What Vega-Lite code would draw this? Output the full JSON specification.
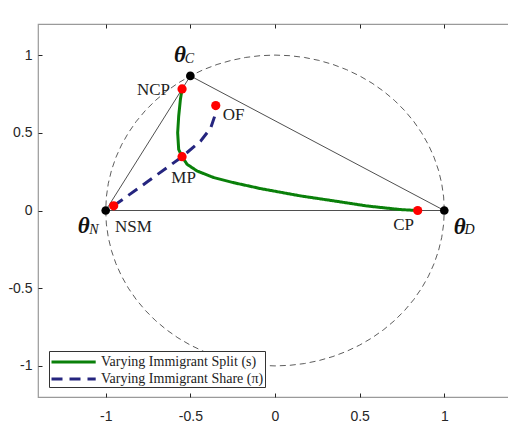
{
  "$schema": "https://vega.github.io/schema/vega-lite/v6.json",
  "autosize": "none",
  "width": 474,
  "height": 373,
  "padding": {"left": 38, "top": 24, "right": 0, "bottom": 28},
  "background": "white",
  "config": {
    "view": {"stroke": "#9a9a9a", "strokeWidth": 1.2},
    "axis": {"labelFont": "Liberation Sans", "labelFontSize": 14, "labelColor": "#262626", "tickColor": "#262626", "domain": false, "grid": false, "title": null},
    "legend": {"labelFont": "Times New Roman, Liberation Serif, serif", "labelFontSize": 14, "labelColor": "#222222"},
    "style": {"guide-label": {"font": "Times New Roman, Liberation Serif, serif"}}
  },
  "datasets": {
    "circle": [
      {"a":0,"x":1,"y":0},{"a":5,"x":0.9962,"y":0.0872},{"a":10,"x":0.9848,"y":0.1736},{"a":15,"x":0.9659,"y":0.2588},{"a":20,"x":0.9397,"y":0.342},{"a":25,"x":0.9063,"y":0.4226},{"a":30,"x":0.866,"y":0.5},{"a":35,"x":0.8192,"y":0.5736},{"a":40,"x":0.766,"y":0.6428},{"a":45,"x":0.7071,"y":0.7071},{"a":50,"x":0.6428,"y":0.766},{"a":55,"x":0.5736,"y":0.8192},{"a":60,"x":0.5,"y":0.866},{"a":65,"x":0.4226,"y":0.9063},{"a":70,"x":0.342,"y":0.9397},{"a":75,"x":0.2588,"y":0.9659},{"a":80,"x":0.1736,"y":0.9848},{"a":85,"x":0.0872,"y":0.9962},
      {"a":90,"x":0,"y":1},{"a":95,"x":-0.0872,"y":0.9962},{"a":100,"x":-0.1736,"y":0.9848},{"a":105,"x":-0.2588,"y":0.9659},{"a":110,"x":-0.342,"y":0.9397},{"a":115,"x":-0.4226,"y":0.9063},{"a":120,"x":-0.5,"y":0.866},{"a":125,"x":-0.5736,"y":0.8192},{"a":130,"x":-0.6428,"y":0.766},{"a":135,"x":-0.7071,"y":0.7071},{"a":140,"x":-0.766,"y":0.6428},{"a":145,"x":-0.8192,"y":0.5736},{"a":150,"x":-0.866,"y":0.5},{"a":155,"x":-0.9063,"y":0.4226},{"a":160,"x":-0.9397,"y":0.342},{"a":165,"x":-0.9659,"y":0.2588},{"a":170,"x":-0.9848,"y":0.1736},{"a":175,"x":-0.9962,"y":0.0872},
      {"a":180,"x":-1,"y":0},{"a":185,"x":-0.9962,"y":-0.0872},{"a":190,"x":-0.9848,"y":-0.1736},{"a":195,"x":-0.9659,"y":-0.2588},{"a":200,"x":-0.9397,"y":-0.342},{"a":205,"x":-0.9063,"y":-0.4226},{"a":210,"x":-0.866,"y":-0.5},{"a":215,"x":-0.8192,"y":-0.5736},{"a":220,"x":-0.766,"y":-0.6428},{"a":225,"x":-0.7071,"y":-0.7071},{"a":230,"x":-0.6428,"y":-0.766},{"a":235,"x":-0.5736,"y":-0.8192},{"a":240,"x":-0.5,"y":-0.866},{"a":245,"x":-0.4226,"y":-0.9063},{"a":250,"x":-0.342,"y":-0.9397},{"a":255,"x":-0.2588,"y":-0.9659},{"a":260,"x":-0.1736,"y":-0.9848},{"a":265,"x":-0.0872,"y":-0.9962},
      {"a":270,"x":0,"y":-1},{"a":275,"x":0.0872,"y":-0.9962},{"a":280,"x":0.1736,"y":-0.9848},{"a":285,"x":0.2588,"y":-0.9659},{"a":290,"x":0.342,"y":-0.9397},{"a":295,"x":0.4226,"y":-0.9063},{"a":300,"x":0.5,"y":-0.866},{"a":305,"x":0.5736,"y":-0.8192},{"a":310,"x":0.6428,"y":-0.766},{"a":315,"x":0.7071,"y":-0.7071},{"a":320,"x":0.766,"y":-0.6428},{"a":325,"x":0.8192,"y":-0.5736},{"a":330,"x":0.866,"y":-0.5},{"a":335,"x":0.9063,"y":-0.4226},{"a":340,"x":0.9397,"y":-0.342},{"a":345,"x":0.9659,"y":-0.2588},{"a":350,"x":0.9848,"y":-0.1736},{"a":355,"x":0.9962,"y":-0.0872},{"a":360,"x":1,"y":0}
    ],
    "tri": [
      {"i":0,"x":-1,"y":0},{"i":1,"x":-0.5,"y":0.866},{"i":2,"x":1,"y":0},{"i":3,"x":-1,"y":0}
    ],
    "curves": [
      {"s":"Varying Immigrant Split (s)","i":0,"x":-0.549,"y":0.782},
      {"s":"Varying Immigrant Split (s)","i":1,"x":-0.559,"y":0.713},
      {"s":"Varying Immigrant Split (s)","i":2,"x":-0.569,"y":0.606},
      {"s":"Varying Immigrant Split (s)","i":3,"x":-0.575,"y":0.5},
      {"s":"Varying Immigrant Split (s)","i":4,"x":-0.569,"y":0.393},
      {"s":"Varying Immigrant Split (s)","i":5,"x":-0.549,"y":0.346},
      {"s":"Varying Immigrant Split (s)","i":6,"x":-0.519,"y":0.297},
      {"s":"Varying Immigrant Split (s)","i":7,"x":-0.46,"y":0.254},
      {"s":"Varying Immigrant Split (s)","i":8,"x":-0.362,"y":0.212},
      {"s":"Varying Immigrant Split (s)","i":9,"x":-0.244,"y":0.179},
      {"s":"Varying Immigrant Split (s)","i":10,"x":-0.086,"y":0.141},
      {"s":"Varying Immigrant Split (s)","i":11,"x":0.15,"y":0.094},
      {"s":"Varying Immigrant Split (s)","i":12,"x":0.347,"y":0.062},
      {"s":"Varying Immigrant Split (s)","i":13,"x":0.544,"y":0.029},
      {"s":"Varying Immigrant Split (s)","i":14,"x":0.74,"y":0.006},
      {"s":"Varying Immigrant Split (s)","i":15,"x":0.843,"y":0},
      {"s":"Varying Immigrant Share (π)","i":0,"x":-0.953,"y":0.03},
      {"s":"Varying Immigrant Share (π)","i":1,"x":-0.75,"y":0.188},
      {"s":"Varying Immigrant Share (π)","i":2,"x":-0.549,"y":0.346},
      {"s":"Varying Immigrant Share (π)","i":3,"x":-0.44,"y":0.446},
      {"s":"Varying Immigrant Share (π)","i":4,"x":-0.38,"y":0.53},
      {"s":"Varying Immigrant Share (π)","i":5,"x":-0.352,"y":0.62},
      {"s":"Varying Immigrant Share (π)","i":6,"x":-0.35,"y":0.675}
    ],
    "black": [
      {"x":-1,"y":0},{"x":-0.5,"y":0.866},{"x":1,"y":0}
    ],
    "red": [
      {"n":"NSM","x":-0.953,"y":0.03},{"n":"NCP","x":-0.549,"y":0.782},{"n":"MP","x":-0.549,"y":0.346},{"n":"OF","x":-0.35,"y":0.675},{"n":"CP","x":0.843,"y":0}
    ],
    "names": [
      {"t":"NCP","x":-0.718,"y":0.776},{"t":"MP","x":-0.54,"y":0.207},{"t":"OF","x":-0.245,"y":0.617},{"t":"NSM","x":-0.836,"y":-0.107},{"t":"CP","x":0.76,"y":-0.094}
    ],
    "thetas": [
      {"t":"θ","x":-0.562,"y":1.0},{"t":"θ","x":-1.13,"y":-0.099},{"t":"θ","x":1.091,"y":-0.103}
    ],
    "subs": [
      {"t":"C","x":-0.505,"y":0.972},{"t":"N","x":-1.07,"y":-0.125},{"t":"D","x":1.15,"y":-0.125}
    ]
  },
  "encoding": {
    "x": {"field": "x", "type": "quantitative", "scale": {"domain": [-1.4, 1.4], "nice": false, "zero": false}, "axis": null},
    "y": {"field": "y", "type": "quantitative", "scale": {"domain": [-1.2, 1.2], "nice": false, "zero": false}, "axis": null}
  },
  "resolve": {"axis": {"x": "independent", "y": "independent"}},
  "layer": [
    {
      "data": {"name": "circle"},
      "mark": {"type": "line", "stroke": "#333333", "strokeWidth": 0.8, "strokeDash": [6, 4]},
      "encoding": {
        "order": {"field": "a", "type": "quantitative"},
        "x": {"field": "x", "type": "quantitative", "axis": {"orient": "top", "labels": false, "values": [-1, -0.5, 0, 0.5, 1], "tickSize": -4, "ticks": true}},
        "y": {"field": "y", "type": "quantitative", "axis": {"orient": "right", "labels": false, "values": [-1, -0.5, 0, 0.5, 1], "tickSize": -4}}
      }
    },
    {
      "data": {"name": "tri"},
      "mark": {"type": "line", "stroke": "#222222", "strokeWidth": 0.8},
      "encoding": {
        "order": {"field": "i", "type": "quantitative"},
        "x": {"field": "x", "type": "quantitative", "axis": {"orient": "bottom", "values": [-1, -0.5, 0, 0.5, 1], "tickSize": -4, "labelPadding": 16, "labelFont": "Liberation Sans", "labelExpr": "datum.value + ''"}},
        "y": {"field": "y", "type": "quantitative", "axis": {"orient": "left", "values": [-1, -0.5, 0, 0.5, 1], "tickSize": -4, "labelPadding": 10, "labelFont": "Liberation Sans", "labelExpr": "datum.value + ''"}}
      }
    },
    {
      "data": {"name": "curves"},
      "mark": {"type": "line", "strokeWidth": 3},
      "encoding": {
        "order": {"field": "i", "type": "quantitative"},
        "color": {"field": "s", "type": "nominal", "sort": null,
          "scale": {"domain": ["Varying Immigrant Split (s)", "Varying Immigrant Share (π)"], "range": ["#0a800a", "#25257f"]},
          "legend": {"orient": "none", "legendX": 11, "legendY": 327, "title": null, "fillColor": "white", "strokeColor": "#333333", "padding": 1, "symbolType": "M-1,0H4.2", "symbolSize": 289, "symbolStrokeWidth": 3, "symbolFillColor": "transparent", "labelFont": "Times New Roman, Liberation Serif, serif", "labelFontSize": 14, "labelColor": "#222222", "labelOffset": 31, "rowPadding": 0, "labelLimit": 300}},
        "strokeDash": {"field": "s", "type": "nominal", "sort": null,
          "scale": {"domain": ["Varying Immigrant Split (s)", "Varying Immigrant Share (π)"], "range": [[1, 0], [11, 7]]},
          "legend": {"orient": "none", "legendX": 11, "legendY": 327, "title": null, "fillColor": "white", "strokeColor": "#333333", "padding": 1, "symbolType": "M-1,0H4.2", "symbolSize": 289, "symbolStrokeWidth": 3, "symbolFillColor": "transparent", "labelFont": "Times New Roman, Liberation Serif, serif", "labelFontSize": 14, "labelColor": "#222222", "labelOffset": 31, "rowPadding": 0, "labelLimit": 300}}
      }
    },
    {
      "data": {"name": "black"},
      "mark": {"type": "circle", "size": 75, "color": "black", "opacity": 1}
    },
    {
      "data": {"name": "red"},
      "mark": {"type": "circle", "size": 85, "color": "#ff0000", "opacity": 1}
    },
    {
      "data": {"name": "names"},
      "mark": {"type": "text", "font": "Liberation Serif", "fontSize": 17, "color": "#222222", "align": "center", "baseline": "middle"},
      "encoding": {"text": {"field": "t"}}
    },
    {
      "data": {"name": "thetas"},
      "mark": {"type": "text", "font": "Liberation Serif", "fontSize": 23, "fontWeight": "bold", "fontStyle": "italic", "color": "#111111", "align": "center", "baseline": "middle"},
      "encoding": {"text": {"field": "t"}}
    },
    {
      "data": {"name": "subs"},
      "mark": {"type": "text", "font": "Liberation Serif", "fontSize": 14, "fontStyle": "italic", "color": "#111111", "align": "center", "baseline": "middle"},
      "encoding": {"text": {"field": "t"}}
    }
  ]
}
